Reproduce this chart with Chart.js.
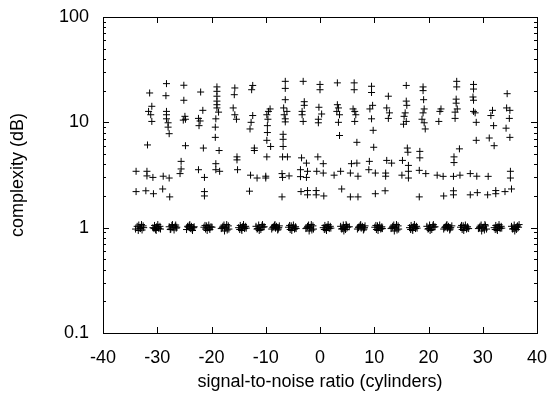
<!DOCTYPE html>
<html>
<head>
<meta charset="utf-8">
<script src="https://cdn.jsdelivr.net/npm/chart.js@4"></script>
<style>
  html, body { margin: 0; padding: 0; background: #fff; }
  #wrap { width: 554px; height: 394px; }
</style>
</head>
<body>
<div id="wrap"><canvas id="chartCanvas"></canvas></div>
<script>

// axis ticks
const xTickValues = [-40, -30, -20, -10, 0, 10, 20, 30, 40];
const yTickValues = [0.1, 1, 10, 100];

// points sitting around complexity = 1
const unityBand = [
    [-34.0,0.97],[-33.7,1.03],[-33.4,1.06],[-33.2,0.99],[-33.0,1.01],[-32.8,0.95],[-32.6,1.04],[-33.5,0.94],[-32.9,1.07],[-33.1,0.98],[-32.5,1.0],
    [-30.8,1.0],[-30.5,1.05],[-30.3,0.96],[-30.1,1.02],[-29.9,1.07],[-29.7,0.98],[-29.5,1.03],[-30.2,0.94],[-29.4,0.97],[-30.6,0.98],[-29.8,1.01],
    [-27.8,1.02],[-27.5,0.97],[-27.3,1.05],[-27.1,1.0],[-26.9,0.95],[-26.7,1.03],[-26.5,0.99],[-27.2,1.07],[-26.6,1.06],[-27.6,0.96],[-26.4,1.01],
    [-24.6,0.96],[-24.3,1.01],[-24.1,1.05],[-23.9,0.98],[-23.7,1.03],[-23.5,0.94],[-23.3,1.0],[-24.0,1.07],[-23.6,0.97],[-24.4,1.03],[-23.2,1.02],
    [-21.4,1.01],[-21.1,0.97],[-20.9,1.04],[-20.7,1.0],[-20.5,1.06],[-20.3,0.96],[-20.1,1.02],[-20.8,0.94],[-20.4,0.99],[-21.2,1.05],[-19.9,1.01],
    [-18.2,0.98],[-17.9,1.03],[-17.7,1.06],[-17.5,0.99],[-17.3,1.01],[-17.1,0.95],[-16.9,1.04],[-17.6,0.93],[-17.2,1.07],[-18.0,1.0],[-16.8,0.97],
    [-15.0,1.0],[-14.7,1.05],[-14.5,0.97],[-14.3,1.02],[-14.1,1.07],[-13.9,0.98],[-13.7,1.03],[-14.4,0.94],[-13.6,0.99],[-14.8,0.96],[-14.0,1.01],
    [-11.8,1.03],[-11.5,0.98],[-11.3,1.06],[-11.1,1.0],[-10.9,0.96],[-10.7,1.04],[-10.5,1.01],[-11.2,0.94],[-10.6,1.07],[-11.6,0.97],[-10.3,1.02],
    [-8.9,0.97],[-8.6,1.02],[-8.4,1.05],[-8.2,0.99],[-8.0,1.03],[-7.8,0.95],[-7.6,1.0],[-8.3,1.07],[-7.7,0.97],[-8.7,1.0],[-7.5,1.04],
    [-5.8,1.01],[-5.5,0.96],[-5.3,1.04],[-5.1,1.0],[-4.9,1.06],[-4.7,0.97],[-4.5,1.02],[-5.2,0.94],[-4.6,0.99],[-5.6,1.05],[-4.4,0.98],
    [-2.6,0.98],[-2.3,1.03],[-2.1,1.06],[-1.9,0.99],[-1.7,1.01],[-1.5,0.95],[-1.3,1.04],[-2.0,0.93],[-1.6,1.07],[-2.4,1.0],[-1.2,0.97],
    [0.6,1.0],[0.9,1.05],[1.1,0.97],[1.3,1.02],[1.5,1.07],[1.7,0.98],[1.9,1.03],[1.2,0.94],[2.0,0.99],[0.8,0.96],[1.6,1.01],
    [3.8,1.03],[4.1,0.98],[4.3,1.06],[4.5,1.0],[4.7,0.96],[4.9,1.04],[5.1,1.01],[4.4,0.93],[5.4,1.02],[4.0,0.97],[4.8,1.07],
    [6.9,0.97],[7.2,1.02],[7.4,1.05],[7.6,0.99],[7.8,1.03],[8.0,0.95],[8.2,1.0],[7.5,1.07],[8.1,0.97],[7.1,1.0],[8.3,1.04],
    [10.1,1.01],[10.4,0.96],[10.6,1.04],[10.8,1.0],[11.0,1.06],[11.2,0.97],[11.4,1.02],[10.7,0.94],[11.3,0.99],[10.3,1.05],[11.5,0.98],
    [13.1,0.98],[13.4,1.03],[13.6,1.06],[13.8,0.99],[14.0,1.01],[14.2,0.95],[14.4,1.04],[13.7,0.93],[14.1,1.07],[13.3,1.0],[14.5,0.97],
    [16.5,1.0],[16.8,1.05],[17.0,0.97],[17.2,1.02],[17.4,1.07],[17.6,0.98],[17.8,1.03],[17.1,0.94],[17.9,0.99],[16.7,0.96],[17.5,1.01],
    [19.7,1.03],[20.0,0.98],[20.2,1.06],[20.4,1.0],[20.6,0.96],[20.8,1.04],[21.0,1.01],[20.3,0.94],[20.9,1.07],[19.9,0.97],[21.2,1.02],
    [22.8,0.97],[23.1,1.02],[23.3,1.05],[23.5,0.99],[23.7,1.03],[23.9,0.95],[24.1,1.0],[23.4,1.07],[24.0,0.97],[23.0,1.0],[24.3,1.04],
    [25.9,1.01],[26.2,0.96],[26.4,1.04],[26.6,1.0],[26.8,1.06],[27.0,0.97],[27.2,1.02],[26.5,0.94],[27.1,0.99],[26.1,1.05],[27.4,0.98],
    [29.2,0.98],[29.5,1.03],[29.7,1.06],[29.9,0.99],[30.1,1.01],[30.3,0.95],[30.5,1.04],[29.8,0.93],[30.4,1.07],[29.4,1.0],[30.7,0.97],
    [32.1,1.0],[32.4,1.05],[32.6,0.97],[32.8,1.02],[33.0,1.07],[33.2,0.98],[33.4,1.03],[32.7,0.94],[33.5,0.99],[32.3,0.96],[33.1,1.01],
    [35.3,1.03],[35.6,0.98],[35.8,1.06],[36.0,1.0],[36.2,0.96],[36.4,1.04],[36.6,1.01],[35.9,0.93],[36.7,1.07],[35.5,0.97],[36.3,1.02]
];

// scattered points between 2 and 25
const upperBand = [
    [-33.9,3.43],[-33.9,2.2],
    [-31.4,19.0],[-31.0,14.2],[-31.6,12.7],[-31.2,11.8],[-31.0,10.2],[-31.8,6.1],[-31.9,3.43],[-31.9,3.1],[-30.8,3.0],[-32.1,2.24],[-30.7,2.1],
    [-28.3,23.3],[-28.4,17.9],[-28.3,12.7],[-28.3,11.8],[-28.3,10.8],[-28.0,9.9],[-28.0,9.0],[-27.8,7.8],[-28.9,3.08],[-27.8,2.96],[-29.0,2.33],[-27.7,1.96],
    [-25.1,22.5],[-25.1,16.2],[-24.9,11.4],[-25.2,10.5],[-24.8,10.7],[-24.8,6.0],[-25.6,4.26],[-25.6,3.61],[-25.8,3.26],
    [-22.0,19.4],[-21.6,13.0],[-22.4,10.9],[-22.1,10.3],[-22.3,9.3],[-21.5,5.7],[-22.4,3.55],[-21.3,3.0],[-21.3,2.2],[-21.3,2.0],
    [-19.0,21.7],[-19.0,19.7],[-19.0,17.7],[-19.0,15.9],[-19.0,14.7],[-19.0,13.7],[-18.7,12.5],[-19.2,10.8],[-19.3,9.0],[-19.3,7.2],[-18.6,5.4],[-19.2,4.05],[-19.2,3.55],[-18.5,3.43],
    [-15.7,21.2],[-15.8,18.3],[-16.0,13.7],[-15.7,11.8],[-15.4,10.7],[-15.3,4.7],[-15.3,4.4],[-15.2,3.55],
    [-12.4,22.4],[-12.6,20.4],[-12.4,11.6],[-12.7,10.0],[-12.9,8.65],[-12.1,5.7],[-12.1,5.4],[-12.8,3.15],[-11.6,2.96],[-13.0,2.22],
    [-9.2,13.4],[-9.5,12.7],[-9.8,11.8],[-9.6,10.7],[-9.7,9.3],[-9.7,8.0],[-9.8,6.75],[-9.1,5.9],[-9.8,4.7],[-10.0,3.08],[-10.0,2.96],
    [-6.4,24.5],[-6.4,21.0],[-6.4,16.4],[-6.7,13.7],[-6.1,12.7],[-6.6,11.8],[-6.4,10.8],[-6.4,10.1],[-6.8,7.7],[-6.8,6.9],[-6.8,5.9],[-6.9,4.7],[-6.0,4.7],[-7.0,3.26],[-6.9,3.0],[-5.7,3.1],[-7.0,1.96],
    [-3.1,24.5],[-2.9,15.7],[-2.9,14.5],[-3.3,12.7],[-3.3,11.8],[-3.1,10.2],[-3.4,4.6],[-2.5,4.1],[-3.6,3.55],[-2.3,3.43],[-3.6,3.05],[-2.5,3.0],[-3.5,2.2],[-2.3,2.25],[-2.3,2.05],
    [0.0,22.9],[0.0,20.4],[-0.2,13.9],[0.3,12.0],[-0.3,10.7],[-0.3,9.9],[-0.4,4.7],[0.6,4.05],[-0.6,3.43],[0.6,3.3],[-0.7,2.25],[-0.7,2.05],[0.7,2.0],
    [3.2,23.7],[3.2,14.7],[3.4,13.7],[3.1,12.7],[3.6,11.8],[3.4,10.0],[3.6,7.5],[3.8,3.43],[2.6,3.15],[4.0,2.33],
    [6.3,23.7],[6.3,20.4],[6.1,13.4],[6.4,12.7],[6.6,11.8],[6.4,10.2],[6.8,6.46],[5.8,4.05],[6.8,4.1],[5.6,3.3],[7.0,3.08],[5.6,1.96],[7.0,1.96],
    [9.5,22.0],[9.5,19.2],[9.7,14.5],[9.2,13.4],[9.5,10.8],[9.8,8.4],[9.9,5.8],[9.1,4.26],[9.0,3.55],[10.2,3.3],[10.2,2.1],
    [12.6,17.7],[12.3,13.7],[12.8,12.3],[12.6,10.9],[12.3,4.35],[13.2,4.1],[12.1,3.3],[12.1,3.08],[12.0,2.24],
    [15.9,22.4],[15.9,15.9],[16.0,14.5],[15.7,12.3],[15.5,11.4],[15.9,10.2],[15.4,9.6],[16.1,5.7],[16.2,5.2],[15.2,4.35],[16.3,3.9],[15.1,3.15],[16.3,3.43],[16.3,2.96],
    [19.0,21.7],[19.0,20.0],[19.1,16.4],[19.2,13.4],[19.0,12.3],[18.8,10.7],[19.2,9.9],[19.4,8.65],[18.4,5.3],[18.4,4.6],[18.3,3.5],[19.5,3.26],[18.3,1.96],
    [22.1,12.7],[22.3,13.4],[21.9,10.2],[21.6,3.15],[22.7,3.07],[22.8,2.0],
    [25.2,24.5],[25.2,21.7],[25.1,16.6],[25.1,15.2],[25.3,13.4],[24.9,12.5],[24.9,10.9],[25.7,5.6],[24.7,4.7],[24.7,4.15],[24.6,3.07],[25.8,3.15],[24.6,2.24],[24.6,2.05],
    [28.3,22.9],[28.3,20.7],[28.2,17.4],[28.3,16.2],[28.3,12.7],[28.6,12.3],[28.8,10.0],[28.8,6.75],[27.7,3.26],[28.9,3.08],[27.7,2.05],[29.0,2.15],
    [31.8,13.0],[31.5,11.6],[32.0,9.3],[31.2,7.1],[32.1,6.0],[31.0,3.07],[30.9,2.05],[32.4,2.1],[32.4,2.25],
    [34.5,18.7],[34.4,13.7],[35.0,13.0],[34.9,10.9],[34.3,8.8],[35.0,7.2],[35.1,3.43],[35.1,2.96],[34.1,2.2],[35.3,2.33]
];

const toPoints = arr => arr.map(p => ({ x: p[0], y: p[1] }));

// gnuplot style frame with inward ticks on all four sides
const frameTicks = {
    id: 'frameTicks',
    afterDatasetsDraw(chart) {
        const { ctx, chartArea: a, scales: { x, y } } = chart;
        ctx.save();
        ctx.strokeStyle = '#000';
        ctx.lineWidth = 1;
        ctx.beginPath();
        xTickValues.forEach(v => {
            const px = Math.round(x.getPixelForValue(v)) + 0.5;
            ctx.moveTo(px, a.bottom); ctx.lineTo(px, a.bottom - 6);
            ctx.moveTo(px, a.top); ctx.lineTo(px, a.top + 6);
        });
        for (let d = 0.1; d < 100; d *= 10) {
            for (let m = 1; m <= 10; m++) {
                const v = d * m;
                const len = (m === 1 || m === 10) ? 6 : 3;
                const py = Math.round(y.getPixelForValue(v)) + 0.5;
                ctx.moveTo(a.left, py); ctx.lineTo(a.left + len, py);
                ctx.moveTo(a.right, py); ctx.lineTo(a.right - len, py);
            }
        }
        ctx.stroke();
        ctx.strokeRect(Math.round(a.left) + 0.5, Math.round(a.top) + 0.5,
            Math.round(a.width), Math.round(a.height));
        ctx.restore();
    }
};

const tickFont = { family: 'Liberation Sans, Arial, sans-serif', size: 18 };

let ctx = document.querySelector('#chartCanvas');

let graph = new Chart(ctx, {
    type: 'scatter',
    data: {
        datasets: [
            {
                data: toPoints(unityBand),
                pointStyle: 'cross',
                pointRadius: 3.5,
                borderColor: '#000',
                borderWidth: 1
            },
            {
                data: toPoints(upperBand),
                pointStyle: 'cross',
                pointRadius: 3.5,
                borderColor: '#000',
                borderWidth: 1
            }
        ]
    },
    options: {
        responsive: true,
        maintainAspectRatio: false,
        animation: false,
        layout: { padding: { left: 0, right: 17, top: 17, bottom: 0 } },
        plugins: {
            legend: { display: false },
            tooltip: { enabled: false }
        },
        scales: {
            x: {
                type: 'linear',
                min: -40,
                max: 40,
                afterBuildTicks: s => { s.ticks = xTickValues.map(v => ({ value: v })); },
                afterFit: s => { s.height = 61; s.paddingLeft = 0; s.paddingRight = 0; },
                grid: { display: false, drawTicks: false },
                border: { display: false },
                ticks: { color: '#000', font: tickFont, padding: 14, autoSkip: false, maxRotation: 0 },
                title: {
                    display: true,
                    text: 'signal-to-noise ratio (cylinders)',
                    color: '#000',
                    font: tickFont,
                    padding: { top: 0, bottom: 1 }
                }
            },
            y: {
                type: 'logarithmic',
                min: 0.1,
                max: 100,
                afterBuildTicks: s => { s.ticks = yTickValues.map(v => ({ value: v })); },
                afterFit: s => { s.width = 103; s.paddingTop = 0; s.paddingBottom = 0; },
                grid: { display: false, drawTicks: false },
                border: { display: false },
                ticks: {
                    color: '#000',
                    font: tickFont,
                    padding: 14,
                    autoSkip: false,
                    callback: v => String(v)
                },
                title: {
                    display: true,
                    text: 'complexity (dB)',
                    color: '#000',
                    font: tickFont,
                    padding: { top: 7, bottom: 0 }
                }
            }
        }
    },
    plugins: [frameTicks]
});

</script>
</body>
</html>
